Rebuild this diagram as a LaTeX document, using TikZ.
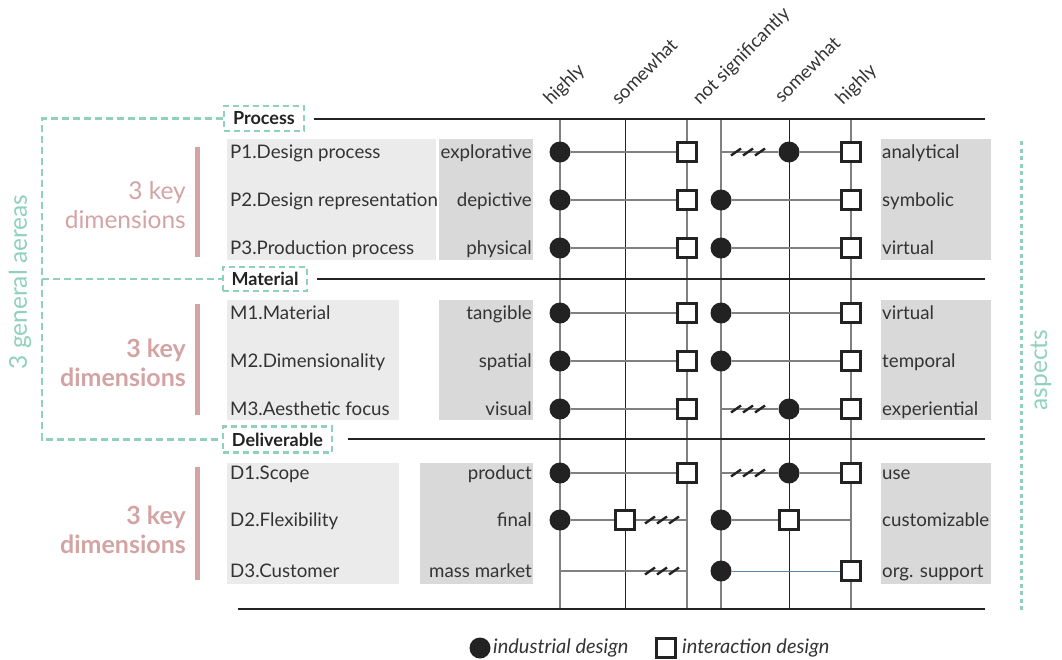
\documentclass[tikz,border=0pt]{standalone}
\usepackage{fontspec}
\setmainfont{Lato}
\definecolor{ink}{HTML}{222222}
\definecolor{txt}{HTML}{333333}
\definecolor{rowgray}{HTML}{808080}
\definecolor{mint}{HTML}{8FD1B9}
\definecolor{rose}{HTML}{D4A3A3}
\definecolor{boxlight}{HTML}{EBEBEB}
\definecolor{boxdark}{HTML}{D9D9D9}
\definecolor{steel}{HTML}{5B86A3}
\pgfdeclarelayer{bg}
\pgfsetlayers{bg,main}
\tikzset{
  ind/.style={circle, fill=ink, minimum size=21pt, inner sep=0pt},
  int/.style={rectangle, draw=ink, line width=2.6pt, fill=white, minimum size=18.5pt, inner sep=0pt},
  rule/.style={line width=2.8pt, ink},
  gridg/.style={line width=1.3pt, rowgray},
  gridk/.style={line width=0.9pt, ink},
  link/.style={line width=1.6pt, rowgray},
  frame/.style={mint, line width=2.6pt, dash pattern=on 7pt off 4pt},
  hdr/.style={draw=mint, line width=2.4pt, dash pattern=on 6pt off 4pt, inner sep=0pt,
    font=\bfseries\fontsize{18}{20}\selectfont, text=ink},
  lbl/.style={inner sep=0pt, text=txt, font=\fontsize{18.7}{21}\selectfont},
  colhead/.style={inner sep=0pt, text=txt, rotate=45, anchor=base west, font=\fontsize{18.5}{20}\selectfont},
  keydim/.style={inner sep=0pt, text=rose, align=right, anchor=east, font=\fontsize{24.5}{29}\selectfont},
  side/.style={inner sep=0pt, text=mint, rotate=90, font=\fontsize{24.5}{28}\selectfont},
  legendtext/.style={inner sep=0pt, text=txt, anchor=west, font=\itshape\fontsize{20}{22}\selectfont},
  slashes/.pic={\foreach \k in {-12,0,12} \draw[line width=2.4pt, ink] (\k-5,3.5) -- (\k+5,-3.5);},
}
\begin{document}
\begin{tikzpicture}[x=1pt,y=-1pt]
\useasboundingbox (0,0) rectangle (1062,659);

% label panels
\begin{pgfonlayer}{bg}
\fill[boxlight] (227,139) rectangle (436,260);
\fill[boxdark]  (439,139) rectangle (533,260);
\fill[boxdark]  (881,139) rectangle (991,260);
\fill[boxlight] (227,300) rectangle (399,420);
\fill[boxdark]  (439,300) rectangle (533,420);
\fill[boxdark]  (881,300) rectangle (991,420);
\fill[boxlight] (227,463) rectangle (399,584);
\fill[boxdark]  (420,463) rectangle (533,584);
\fill[boxdark]  (881,463) rectangle (991,584);
\end{pgfonlayer}

% column headings
\node[colhead] (h1) at (551,106) {highly};
\node[colhead] (h2) at (619,106) {somewhat};
\node[colhead] (h3) at (700,106) {not significantly};
\node[colhead] (h4) at (782,104) {somewhat};
\node[colhead] (h5) at (843,106) {highly};

% area headers
\node[hdr, minimum width=80pt, minimum height=25pt] (proc) at (264,118.5) {Process};
\node[hdr, minimum width=84pt, minimum height=24pt] (mat) at (265,279) {Material};
\node[hdr, minimum width=109pt, minimum height=26pt] (deliv) at (277.5,439.5) {Deliverable};

% horizontal rules
\coordinate (r1) at (985,119);
\coordinate (r2) at (985,279);
\coordinate (r3) at (985,439);
\coordinate (r4a) at (238,609);
\coordinate (r4b) at (985,609);
\draw[rule] ([xshift=9pt]proc.east |- r1) -- (r1);
\draw[rule] ([xshift=9pt]mat.east |- r2) -- (r2);
\draw[rule] ([xshift=15pt]deliv.east |- r3) -- (r3);
\draw[rule] (r4a) -- (r4b);

% scale columns
\foreach \n/\x in {1/560,2/625,3/687,4/721,5/789,6/851}{
  \coordinate (t\n) at (\x,119);
  \coordinate (u\n) at (\x,609);
}
\begin{pgfonlayer}{bg}
\draw[gridg] (t1) -- (u1);
\draw[gridk] (t2) -- (u2);
\draw[gridg] (t3) -- (u3);
\draw[gridg] (t4) -- (u4);
\draw[gridk] (t5) -- (u5);
\draw[gridg] (t6) -- (u6);
\end{pgfonlayer}

% left / right labels
\foreach \r/\y/\a/\b/\c in {
  p1/152/P1.Design process/explorative/analytical,
  p2/200/P2.Design representation/depictive/symbolic,
  p3/248/P3.Production process/physical/virtual,
  m1/313/M1.Material/tangible/virtual,
  m2/361/M2.Dimensionality/spatial/temporal,
  m3/409/M3.Aesthetic focus/visual/experiential,
  d1/473/D1.Scope/product/use,
  d2/520/D2.Flexibility/final/customizable,
  d3/571/D3.Customer/mass market/org. support}{
  \node[lbl, anchor=base west] (\r name) at (230,\y+6) {\a};
  \node[lbl, anchor=base east] (\r low) at (532,\y+6) {\b};
  \node[lbl, anchor=base west] (\r high) at (882,\y+6) {\c};
}

% markers
\node[ind] (p1a) at (560,152) {};
\node[int] (p1b) at (687,152) {};
\coordinate (p1s) at (721,152);
\node[ind] (p1c) at (789,152) {};
\node[int] (p1d) at (851,152) {};

\node[ind] (p2a) at (560,200) {};
\node[int] (p2b) at (687,200) {};
\node[ind] (p2c) at (721,200) {};
\node[int] (p2d) at (851,200) {};

\node[ind] (p3a) at (560,248) {};
\node[int] (p3b) at (687,248) {};
\node[ind] (p3c) at (721,248) {};
\node[int] (p3d) at (851,248) {};

\node[ind] (m1a) at (560,313) {};
\node[int] (m1b) at (687,313) {};
\node[ind] (m1c) at (721,313) {};
\node[int] (m1d) at (851,313) {};

\node[ind] (m2a) at (560,361) {};
\node[int] (m2b) at (687,361) {};
\node[ind] (m2c) at (721,361) {};
\node[int] (m2d) at (851,361) {};

\node[ind] (m3a) at (560,409) {};
\node[int] (m3b) at (687,409) {};
\coordinate (m3s) at (721,409);
\node[ind] (m3c) at (789,409) {};
\node[int] (m3d) at (851,409) {};

\node[ind] (d1a) at (560,473) {};
\node[int] (d1b) at (687,473) {};
\coordinate (d1s) at (721,473);
\node[ind] (d1c) at (789,473) {};
\node[int] (d1d) at (851,473) {};

\node[ind] (d2a) at (560,520) {};
\node[int] (d2b) at (625,520) {};
\coordinate (d2e) at (687,520);
\node[ind] (d2c) at (721,520) {};
\node[int] (d2d) at (789,520) {};
\coordinate (d2f) at (851,520);

\coordinate (d3s) at (560,571);
\coordinate (d3e) at (687,571);
\node[ind] (d3c) at (721,571) {};
\node[int] (d3d) at (851,571) {};

% row links
\begin{pgfonlayer}{bg}
\foreach \r in {p1,p2,p3,m1,m2,m3,d1}{ \draw[link] (\r a) -- (\r b); }
\foreach \r in {p2,p3,m1,m2}{ \draw[link] (\r c) -- (\r d); }
\foreach \r in {p1,m3,d1}{
  \draw[link] (\r s) -- (\r c);
  \draw[link] (\r c) -- (\r d);
}
\draw[link] (d2a) -- (d2b);
\draw[link] (d2b) -- (d2e);
\draw[link] (d2c) -- (d2d);
\draw[link] (d2d) -- (d2f);
\draw[link] (d3s) -- (d3e);
\draw[steel, line width=1pt] (d3c) -- (d3d);
\end{pgfonlayer}

% break marks
\pic at (748,152) {slashes};
\pic at (748,409) {slashes};
\pic at (748,473) {slashes};
\pic at (662,520) {slashes};
\pic at (662,571) {slashes};

% grouping brackets
\coordinate (fx) at (42,0);
\draw[frame] (proc.west) -- (proc.west -| fx) -- (deliv.west -| fx) -- (deliv.west);
\draw[frame] (mat.west -| fx) -- (mat.west);
\coordinate (asp1) at (1021,141);
\coordinate (asp2) at (1021,610);
\draw[mint, line width=3pt, dash pattern=on 4pt off 3.5pt] (asp1) -- (asp2);

\node[side] (areas) at (20,282) {3 general aereas};
\node[side] (aspects) at (1041,370) {aspects};

% key-dimension markers
\draw[rose, line width=5pt] (197,147) -- (197,257);
\draw[rose, line width=5pt] (197,304) -- (197,415);
\draw[rose, line width=5pt] (197,467) -- (197,580);
\node[keydim] (kp) at (186,205) {3 key\\dimensions};
\node[keydim, font=\bfseries\fontsize{25}{29}\selectfont] (km) at (186,363) {3 key\\dimensions};
\node[keydim, font=\bfseries\fontsize{25}{29}\selectfont] (kd) at (186,530) {3 key\\dimensions};

% legend
\node[ind] (lgc) at (480,648) {};
\node[legendtext] (lgct) at (493,648) {industrial design};
\node[int] (lgs) at (666,648) {};
\node[legendtext] (lgst) at (682,648) {interaction design};
\end{tikzpicture}
\end{document}
